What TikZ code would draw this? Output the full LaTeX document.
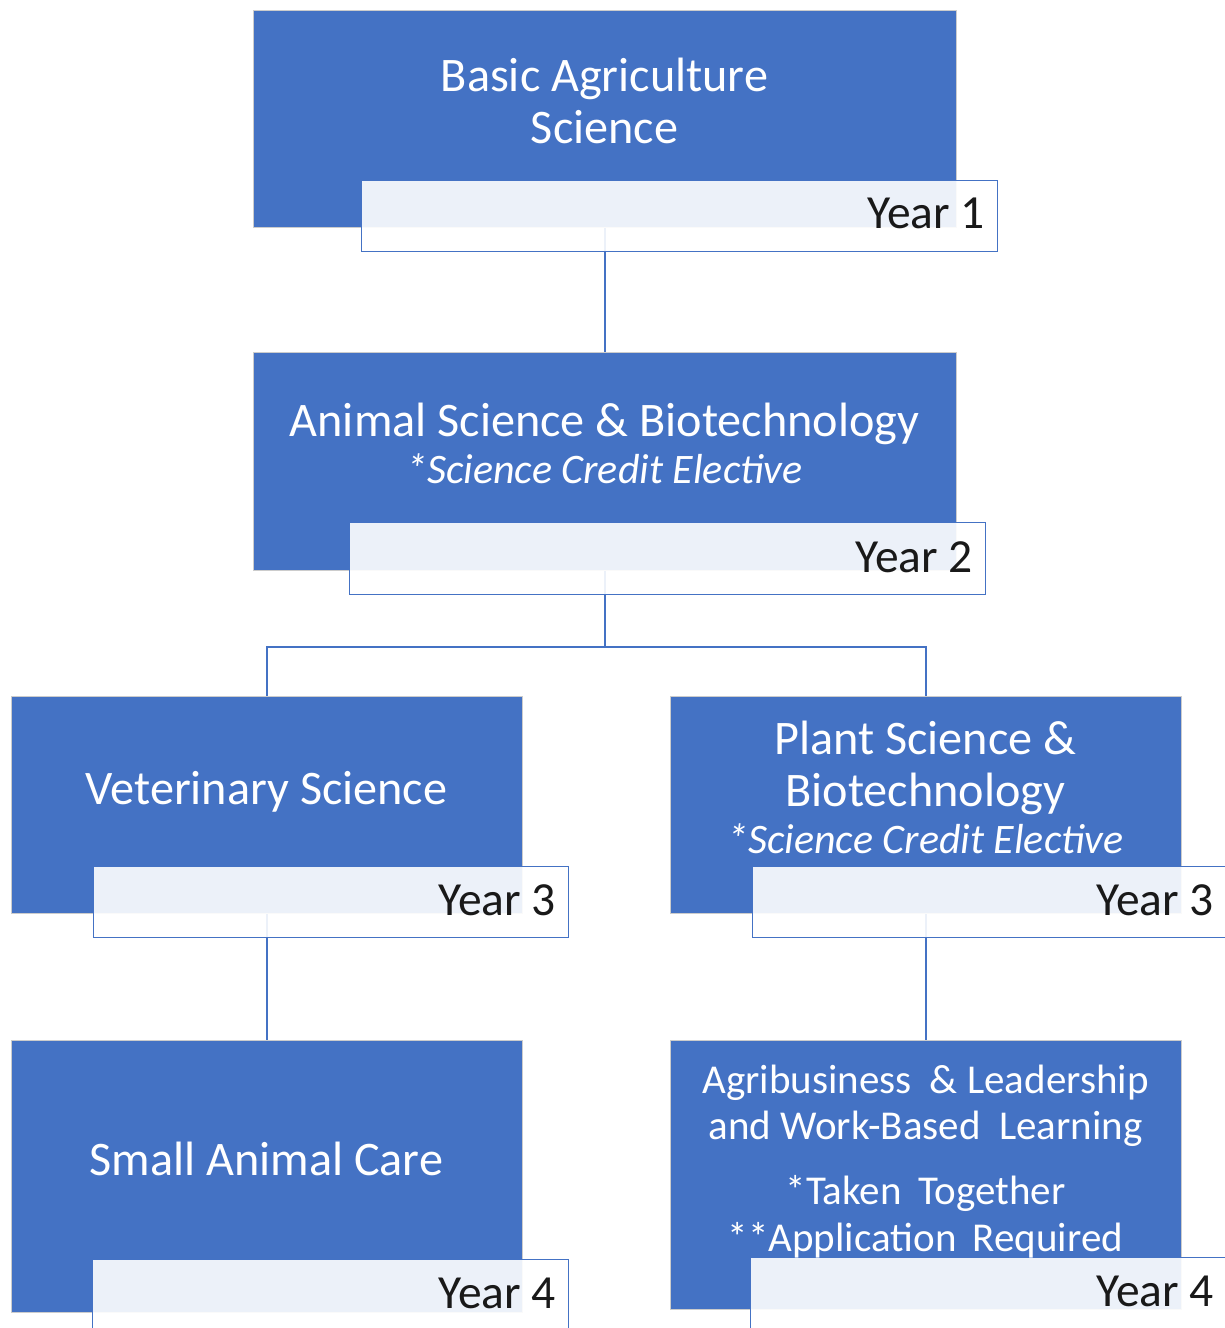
\documentclass[tikz,border=0pt]{standalone}
\usepackage{fontspec}
\setmainfont{Carlito}
\definecolor{accent}{HTML}{4472C4}
\begin{document}
\begin{tikzpicture}[x=1pt,y=-1pt,
  bluebox/.style={draw=gray!40, line width=1pt, fill=accent, inner sep=0pt, rectangle, anchor=north west},
  yearbox/.style={draw=accent, line width=1.4pt, fill=white, fill opacity=0.9, inner sep=0pt, rectangle, anchor=north west},
  conn/.style={draw=accent, line width=1.4pt},
  boxtext/.style={text=white, inner sep=0pt, anchor=base, font=\fontsize{48.2}{52}\selectfont},
  ittext/.style={text=white, inner sep=0pt, anchor=base, font=\fontsize{42}{48}\selectfont\itshape},
  smalltext/.style={text=white, inner sep=0pt, anchor=base, font=\fontsize{41}{46}\selectfont},
  yeartext/.style={text=black!90, inner sep=0pt, anchor=base east, font=\fontsize{47.5}{50}\selectfont}]
\useasboundingbox (0,0) rectangle (1225,1328);
\clip (0,0) rectangle (1225,1328);
% main boxes
\node[bluebox, minimum width=703pt, minimum height=217pt] (b1) at (253,10) {};
\node[bluebox, minimum width=703pt, minimum height=218pt] (b2) at (253,352) {};
\node[bluebox, minimum width=511pt, minimum height=217pt] (b3) at (11,696) {};
\node[bluebox, minimum width=511pt, minimum height=217pt] (b4) at (670,696) {};
\node[bluebox, minimum width=511pt, minimum height=272pt] (b5) at (11,1040) {};
\node[bluebox, minimum width=511pt, minimum height=269pt] (b6) at (670,1040) {};
% connectors
\draw[conn] (b1.south) -- (b2.north);
\draw[conn] (b2.south) -- ++(0,76) coordinate (j);
\draw[conn] (j) -| (b3.north);
\draw[conn] (j) -| (b4.north);
\draw[conn] (b3.south) -- (b5.north);
\draw[conn] (b4.south) -- (b6.north);
% year labels
\node[yearbox, minimum width=636pt, minimum height=71pt] (l1) at (361,180) {};
\node[yearbox, minimum width=636pt, minimum height=72pt] (l2) at (349,522) {};
\node[yearbox, minimum width=475pt, minimum height=71pt] (l3) at (93,866) {};
\node[yearbox, minimum width=476pt, minimum height=71pt] (l4) at (752,866) {};
\node[yearbox, minimum width=476pt, minimum height=75pt] (l5) at (92,1259) {};
\node[yearbox, minimum width=477pt, minimum height=75pt] (l6) at (750,1257) {};
% texts
\node[boxtext] (t1a) at (604.5,91) {Basic Agriculture};
\node[boxtext] (t1b) at (604.5,143) {Science};
\node[boxtext] (t2a) at (604.5,436) {Animal Science \& Biotechnology};
\node[ittext] (t2b) at (604.5,483) {*Science Credit Elective};
\node[boxtext] (t3a) at (266.5,804) {Veterinary Science};
\node[boxtext] (t4a) at (925.5,754) {Plant Science \&};
\node[boxtext] (t4b) at (925.5,806) {Biotechnology};
\node[ittext] (t4c) at (925.5,853) {*Science Credit Elective};
\node[boxtext] (t5a) at (266.5,1175) {Small Animal Care};
\node[smalltext] (t6a) at (925.5,1093) {Agribusiness\hspace{0.45em}\& Leadership};
\node[smalltext] (t6b) at (925.5,1139) {and Work-Based\hspace{0.45em}Learning};
\node[smalltext] (t6c) at (925.5,1204) {*Taken\hspace{0.4em}Together};
\node[smalltext] (t6d) at (925.5,1251) {**Application\hspace{0.4em}Required};
\node[yeartext] (y1) at (985,228) {Year 1};
\node[yeartext] (y2) at (973,572) {Year 2};
\node[yeartext] (y3) at (556,915) {Year 3};
\node[yeartext] (y4) at (1214,915) {Year 3};
\node[yeartext] (y5) at (556,1308) {Year 4};
\node[yeartext] (y6) at (1214,1306) {Year 4};
\end{tikzpicture}
\end{document}
